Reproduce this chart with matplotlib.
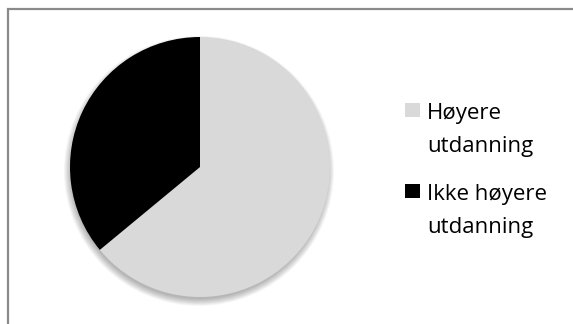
import matplotlib
matplotlib.use("Agg")
import matplotlib.pyplot as plt
from matplotlib.lines import Line2D
from matplotlib.patches import Rectangle, Circle

categories = ["Høyere\nutdanning", "Ikke høyere\nutdanning"]
shares = [64, 36]
colors = ["#d9d9d9", "#000000"]

W, H = 573, 324
fig = plt.figure(figsize=(W / 100, H / 100), dpi=100)
fig.patch.set_facecolor("white")

# chart frame: left and top edges only, the rest runs off the canvas
fx, fy = 8 / W, 1 - 8.5 / H
fig.add_artist(Line2D([fx, fx, 1.01], [-0.01, fy, fy], transform=fig.transFigure,
                      color="#8a8a8a", linewidth=1.6, solid_joinstyle="miter"))

cx, cy, r = 200, 167, 130
ax = fig.add_axes([(cx - r) / W, (H - cy - r) / H, 2 * r / W, 2 * r / H])
ax.set_aspect("equal")
ax.axis("off")

# soft drop shadow, shifted slightly down
for i in range(10):
    ax.add_patch(Circle((-0.008, -0.03), 0.985 + 0.006 * i, facecolor="#000000",
                        edgecolor="none", alpha=0.03, zorder=0, clip_on=False))

wedges, _ = ax.pie(shares, colors=colors, startangle=90, counterclock=False,
                   radius=1.0, wedgeprops=dict(linewidth=0))
for w in wedges:
    w.set_clip_on(False)
ax.set_xlim(-1, 1)
ax.set_ylim(-1, 1)

# legend: square marker plus wrapped label, one text per line
font = dict(family=["Open Sans", "DejaVu Sans"], fontsize=16, color="#000000")
baselines = [119, 200]
line_step = 33
for lab, col, base in zip(categories, colors, baselines):
    fig.add_artist(Rectangle((405 / W, 1 - (base - 2) / H), 15 / W, 14 / H,
                             transform=fig.transFigure, facecolor=col,
                             edgecolor="none"))
    for k, line in enumerate(lab.split("\n")):
        fig.text(427 / W, 1 - (base + k * line_step) / H, line, ha="left",
                 va="baseline", **font)

fig.savefig("out.png", dpi=100)
